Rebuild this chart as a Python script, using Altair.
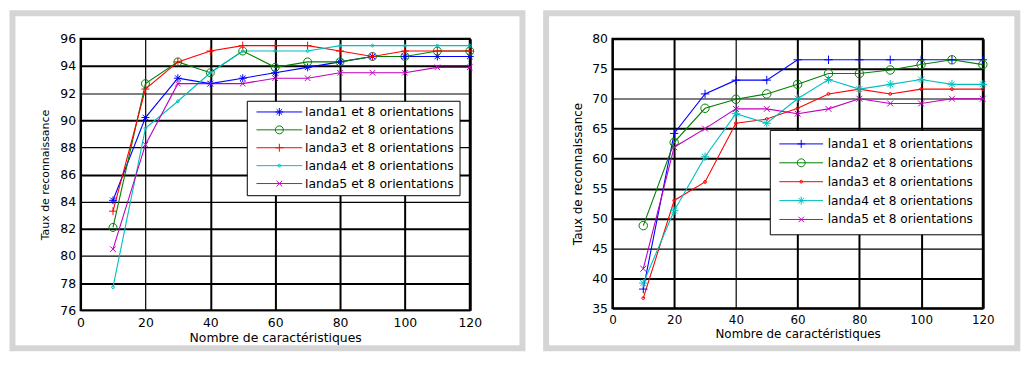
import altair as alt
import pandas as pd

# ---------------- data ----------------
nb_caracteristiques = [10, 20, 30, 40, 50, 60, 70, 80, 90, 100, 110, 120]
series = [
    "landa1 et 8 orientations",
    "landa2 et 8 orientations",
    "landa3 et 8 orientations",
    "landa4 et 8 orientations",
    "landa5 et 8 orientations",
]
colors = ["#0000ff", "#008000", "#ff0000", "#00bfbf", "#bf00bf"]

left_landa1 = [84.1, 90.2, 93.1, 92.7, 93.1, 93.5, 93.9, 94.3, 94.7, 94.7, 94.7, 94.7]
left_landa2 = [82.1, 92.7, 94.3, 93.5, 95.1, 93.9, 94.3, 94.3, 94.7, 94.7, 95.1, 95.1]
left_landa3 = [83.3, 92.3, 94.3, 95.1, 95.5, 95.5, 95.5, 95.1, 94.7, 95.1, 95.1, 95.1]
left_landa4 = [77.7, 89.4, 91.4, 93.5, 95.1, 95.1, 95.1, 95.5, 95.5, 95.5, 95.5, 95.5]
left_landa5 = [80.5, 88.2, 92.7, 92.7, 92.7, 93.1, 93.1, 93.5, 93.5, 93.5, 93.9, 93.9]

right_landa1 = [38.2, 64.2, 70.8, 73.1, 73.1, 76.5, 76.5, 76.5, 76.5, 76.5, 76.5, 76.5]
right_landa2 = [48.8, 62.7, 68.4, 69.9, 70.8, 72.4, 74.2, 74.2, 74.8, 75.7, 76.5, 75.7]
right_landa3 = [36.7, 53.0, 56.1, 65.9, 66.6, 68.4, 70.8, 71.6, 70.8, 71.6, 71.6, 71.6]
right_landa4 = [39.2, 51.3, 60.3, 67.5, 65.9, 70.0, 73.2, 71.6, 72.4, 73.2, 72.4, 72.4]
right_landa5 = [41.6, 61.9, 65.0, 68.3, 68.3, 67.5, 68.3, 70.0, 69.2, 69.2, 70.0, 70.0]

left_markers = ["star", "circle", "plus", "dot", "x"]
right_markers = ["plus", "circle", "dot", "star", "x"]

x_ticks = [0, 20, 40, 60, 80, 100, 120]
left_y_ticks = [76, 78, 80, 82, 84, 86, 88, 90, 92, 94, 96]
right_y_ticks = [35, 40, 45, 50, 55, 60, 65, 70, 75, 80]

FONT = "DejaVu Sans"


def long_df(cols):
    rows = []
    for name, vals in zip(series, cols):
        for n, v in zip(nb_caracteristiques, vals):
            rows.append({"n": n, "taux": v, "serie": name})
    return pd.DataFrame(rows)


def marker_path(kind, m=1.0, h=None):
    d = 0.7 * m
    r = 0.35 * m
    line = f"M{-h},0H{h}" if h else ""
    if kind == "star":
        return line + f"M{-m},0H{m}M0,{-m}V{m}M{-d},{-d}L{d},{d}M{-d},{d}L{d},{-d}"
    if kind == "plus":
        return line + f"M{-m},0H{m}M0,{-m}V{m}"
    if kind == "circle":
        return line + f"M{-m},0A{m},{m} 0 1,0 {m},0A{m},{m} 0 1,0 {-m},0Z"
    if kind == "dot":
        return line + f"M{-r},0A{r},{r} 0 1,0 {r},0A{r},{r} 0 1,0 {-r},0Z"
    return line + f"M{-d},{-d}L{d},{d}M{-d},{d}L{d},{-d}"


def panel(df, markers, ydom, yticks, width, height, xthin, ythin,
          ytitle_size, ytitle_pad, font_size, leg, frame, point_size):
    xenc = alt.X(
        "n:Q",
        scale=alt.Scale(domain=[0, 120], nice=False),
        axis=alt.Axis(
            values=x_ticks, title="Nombre de caractéristiques", grid=True,
            gridColor="black", gridOpacity=1,
            gridWidth={"condition": {"test": xthin, "value": 1.2}, "value": 2},
            domain=False, ticks=False, labelFlush=False, labelOverlap=False,
            labelFont=FONT, labelFontSize=font_size, labelColor="black",
            labelPadding=6, titleFont=FONT, titleFontSize=font_size,
            titleFontWeight="normal", titleColor="black", titlePadding=3,
        ),
    )
    yenc = alt.Y(
        "taux:Q",
        scale=alt.Scale(domain=ydom, nice=False, zero=False),
        axis=alt.Axis(
            values=yticks, title="Taux de reconnaissance", grid=True,
            gridColor="black", gridOpacity=1,
            gridWidth={"condition": {"test": ythin, "value": 1.2}, "value": 2},
            domain=False, ticks=False, labelFlush=False, labelOverlap=False,
            labelFont=FONT, labelFontSize=12.5, labelColor="black",
            labelPadding=5, titleFont=FONT, titleFontSize=ytitle_size,
            titleFontWeight="normal", titleColor="black", titlePadding=ytitle_pad,
        ),
    )
    cscale = alt.Scale(domain=series, range=colors)

    legend = alt.Legend(
        orient="none", legendX=leg["x"], legendY=leg["y"], title=None,
        fillColor="white", strokeColor="black", padding=leg["pad"],
        labelFont=FONT, labelFontSize=leg["fs"], labelColor="black",
        symbolSize=100, symbolStrokeWidth=1, symbolOpacity=1,
        symbolOffset=leg["so"], labelOffset=leg["lo"], rowPadding=leg["rp"],
    )

    frame_layer = alt.Chart(pd.DataFrame({"k": [0]})).mark_rect(
        fillOpacity=0, stroke="#d5d5d5", strokeWidth=6
    ).encode(
        x=alt.value(frame[0]), x2=alt.value(frame[1]),
        y=alt.value(frame[2]), y2=alt.value(frame[3]),
    )

    base = alt.Chart(df)
    lines = base.mark_line(strokeWidth=1.1).encode(
        x=xenc, y=yenc, color=alt.Color("serie:N", scale=cscale, legend=None)
    )
    points = base.mark_point(filled=False, size=point_size, strokeWidth=1, opacity=1).encode(
        x=xenc, y=yenc,
        color=alt.Color("serie:N", scale=cscale, legend=None),
        shape=alt.Shape("serie:N", scale=alt.Scale(domain=series, range=[marker_path(k) for k in markers]), legend=None),
    )
    leg_layer = base.mark_point(filled=False, opacity=0).encode(
        x=xenc, y=yenc,
        color=alt.Color("serie:N", scale=cscale, legend=legend),
        shape=alt.Shape(
            "serie:N",
            scale=alt.Scale(domain=series, range=[marker_path(k, 0.8, leg["h"]) for k in markers]),
            legend=legend,
        ),
    )
    return alt.layer(frame_layer, lines, points, leg_layer).resolve_scale(
        color="independent", shape="independent"
    ).properties(width=width, height=height)


left = panel(
    long_df([left_landa1, left_landa2, left_landa3, left_landa4, left_landa5]),
    left_markers, [76, 96], left_y_ticks, 391.5, 273,
    "datum.value == 20", "datum.value % 4 == 0", 11, 9, 12.5,
    {"x": 167.2, "y": 62.3, "pad": 5, "fs": 12.5, "so": 21.5, "lo": 19.5, "rp": 5, "h": 4.6},
    (-68.5, 444.5, -25.7, 311.3), 64,
)
right = panel(
    long_df([right_landa1, right_landa2, right_landa3, right_landa4, right_landa5]),
    right_markers, [35, 80], right_y_ticks, 372.6, 271,
    "datum.value == 40", "datum.value == 70 || datum.value == 45", 12, 7, 12,
    {"x": 158.3, "y": 91.6, "pad": 8, "fs": 12.2, "so": 17.5, "lo": 20.5, "rp": 6, "h": 4.4},
    (-66.7, 407.3, -25.7, 311.3), 72,
)

chart = alt.hconcat(left, right, spacing=15).properties(
    padding=0, background="white"
).configure_view(stroke="black", strokeWidth=2)

chart.save("out.html", embed_options={"renderer": "svg", "actions": False})
